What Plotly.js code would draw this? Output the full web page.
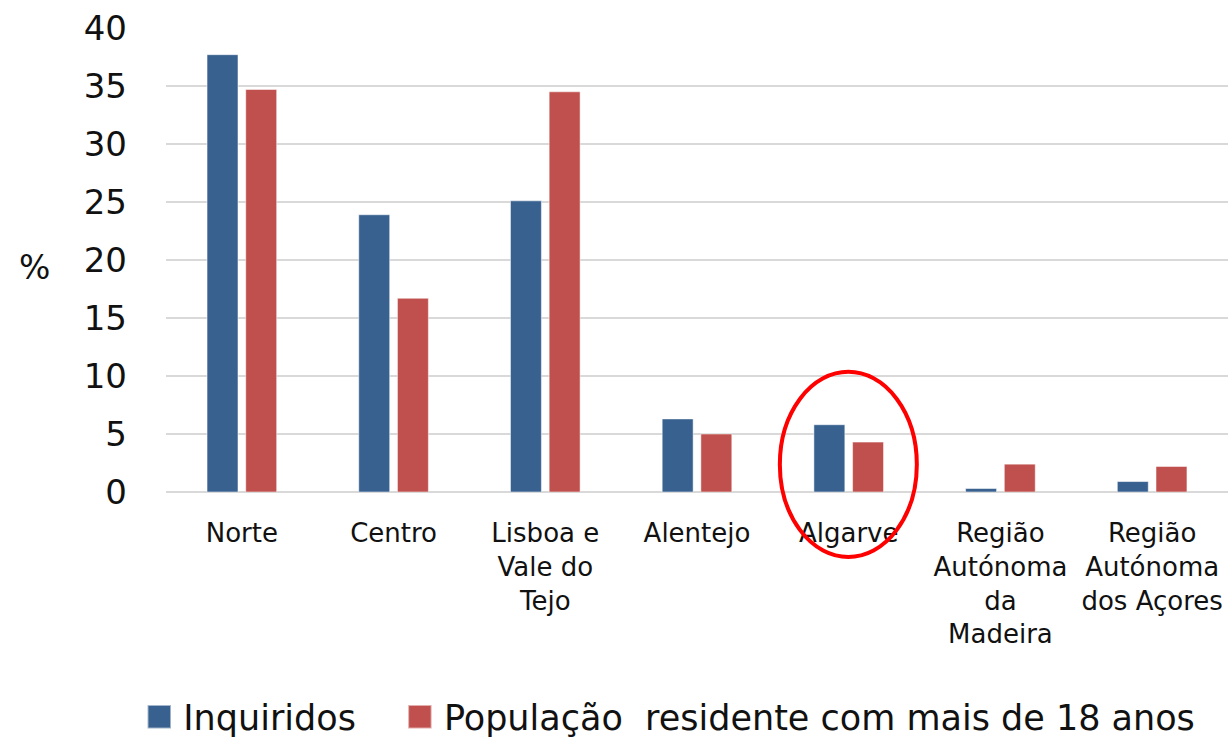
<!DOCTYPE html>
<html>
<head>
<meta charset="utf-8">
<script src="https://cdn.plot.ly/plotly-3.0.1.min.js"></script>
<style>html,body{margin:0;padding:0;background:#fff;}#chart{width:1232px;height:738px;}</style>
</head>
<body>
<div id="chart"></div>
<script>
const categories = ["Norte", "Centro", "Lisboa e<br>Vale do<br>Tejo", "Alentejo", "Algarve", "Região<br>Autónoma<br>da<br>Madeira", "Região<br>Autónoma<br>dos Açores"];
const inquiridos = [37.7, 23.9, 25.1, 6.3, 5.8, 0.3, 0.9];
const populacao = [34.7, 16.7, 34.5, 5.0, 4.3, 2.4, 2.2];
const seriesNames = ["Inquiridos", "População  residente com mais de 18 anos"];
const yTicks = [0, 5, 10, 15, 20, 25, 30, 35, 40];

const FONT = "DejaVu Sans, Open Sans, sans-serif";

const traces = [
  {type: "bar", name: seriesNames[0], x: categories, y: inquiridos,
   marker: {color: "#38618F", line: {color: "rgba(255,255,255,0.5)", width: 1}}},
  {type: "bar", name: seriesNames[1], x: categories, y: populacao,
   marker: {color: "#C0504D", line: {color: "rgba(255,255,255,0.5)", width: 1}}}
];

const layout = {
  width: 1232, height: 738,
  margin: {l: 166, r: 4, t: 28, b: 246, autoexpand: false},
  paper_bgcolor: "#fff", plot_bgcolor: "#fff",
  barmode: "group", bargap: 0.49, bargroupgap: 0.2,
  font: {family: FONT, color: "#111"},
  xaxis: {
    type: "category", showgrid: false, zeroline: false, showline: false, ticks: "",
    tickfont: {family: FONT, size: 26, color: "#111"},
    ticklabelstandoff: 23, automargin: false
  },
  yaxis: {
    range: [0, 40], tickvals: yTicks, showgrid: true, gridcolor: "#d9d9d9", gridwidth: 2,
    zeroline: true, zerolinecolor: "#d9d9d9", zerolinewidth: 2, showline: false, ticks: "",
    tickfont: {family: FONT, size: 34, color: "#111"},
    ticklabelstandoff: 38, automargin: false
  },
  showlegend: true,
  legend: {
    orientation: "h", x: 0.456, xanchor: "center", y: -0.485, yanchor: "middle",
    font: {family: FONT, size: 35, color: "#111"},
    itemwidth: 38
  },
  annotations: [
    {text: "%", xref: "paper", yref: "paper", x: -0.124, y: 0.483, showarrow: false,
     font: {family: FONT, size: 33, color: "#111"}, xanchor: "center", yanchor: "middle"}
  ],
  shapes: [
    {type: "circle", xref: "paper", yref: "paper", x0: 0.578, x1: 0.707, y0: -0.14, y1: 0.259,
     line: {color: "#ff0000", width: 4}}
  ]
};

Plotly.newPlot("chart", traces, layout, {displayModeBar: false, staticPlot: true}).then(function (gd) {
  gd.querySelectorAll(".legend .legendpoints path").forEach(function (p) {
    const t = p.getAttribute("transform") || "";
    p.setAttribute("transform", t + " scale(1.95)");
  });
  const sb = gd.querySelector(".legend .scrollbox");
  if (sb) sb.removeAttribute("clip-path");
  const items = gd.querySelectorAll(".legend .traces");
  if (items.length > 1) {
    const t = items[1].getAttribute("transform") || "";
    items[1].setAttribute("transform", "translate(35,0) " + t);
  }
});
</script>
</body>
</html>
